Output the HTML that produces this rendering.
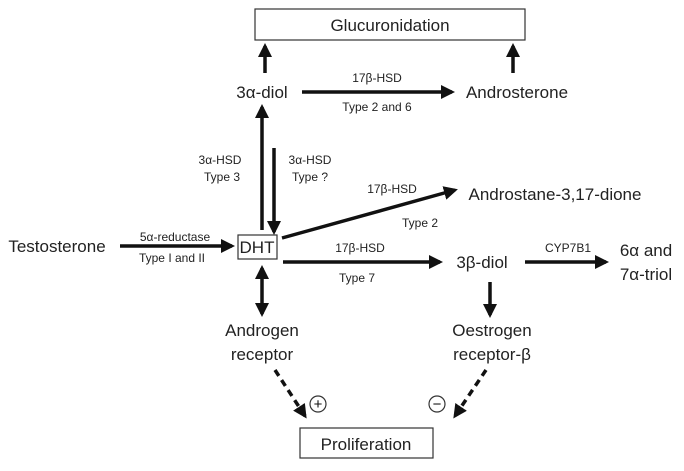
<!DOCTYPE html>
<html><head><meta charset="utf-8"><style>html,body{margin:0;padding:0;background:#fff}</style></head><body>
<svg width="684" height="466" viewBox="0 0 684 466" xmlns="http://www.w3.org/2000/svg" font-family="Liberation Sans, sans-serif" fill="#222">
<defs>
<marker id="b" markerWidth="14" markerHeight="14" refX="11" refY="7" orient="auto-start-reverse" markerUnits="userSpaceOnUse"><path d="M0,0 L14,7 L0,14 z" fill="#111"/></marker>
</defs>
<g stroke="#111" stroke-width="3.5" fill="none">
<line x1="265" y1="73" x2="265" y2="46" marker-end="url(#b)"/>
<line x1="513" y1="73" x2="513" y2="46" marker-end="url(#b)"/>
<line x1="302" y1="92" x2="452" y2="92" marker-end="url(#b)"/>
<line x1="262" y1="230" x2="262" y2="107" marker-end="url(#b)"/>
<line x1="274" y1="148" x2="274" y2="232" marker-end="url(#b)"/>
<line x1="282" y1="238" x2="455" y2="190" marker-end="url(#b)"/>
<line x1="120" y1="246" x2="232" y2="246" marker-end="url(#b)"/>
<line x1="283" y1="262" x2="440" y2="262" marker-end="url(#b)"/>
<line x1="525" y1="262" x2="606" y2="262" marker-end="url(#b)"/>
<line x1="262" y1="268" x2="262" y2="314" marker-start="url(#b)" marker-end="url(#b)"/>
<line x1="490" y1="282" x2="490" y2="315" marker-end="url(#b)"/>
<line x1="275" y1="370" x2="305" y2="416" stroke-dasharray="7,5" marker-end="url(#b)"/>
<line x1="486" y1="370" x2="455" y2="416" stroke-dasharray="7,5" marker-end="url(#b)"/>
</g>
<g fill="#fff" stroke="#333" stroke-width="1.2">
<rect x="255" y="9" width="270" height="31"/>
<rect x="238" y="235" width="39" height="24"/>
<rect x="300" y="428" width="133" height="30"/>
<circle cx="318" cy="404" r="8"/>
<circle cx="437" cy="404" r="8"/>
</g>
<g font-size="15" text-anchor="middle" fill="#111"><text x="318" y="409">+</text><text x="437" y="409">−</text></g>
<g font-size="17" text-anchor="middle">
<text x="390" y="31">Glucuronidation</text>
<text x="366" y="450">Proliferation</text>
<text x="257" y="253">DHT</text>
<text x="262" y="98">3α-diol</text>
<text x="517" y="98">Androsterone</text>
<text x="555" y="200">Androstane-3,17-dione</text>
<text x="57" y="252">Testosterone</text>
<text x="482" y="268">3β-diol</text>
<text x="646" y="256">6α and</text>
<text x="646" y="280">7α-triol</text>
<text x="262" y="336">Androgen</text>
<text x="262" y="360">receptor</text>
<text x="492" y="336">Oestrogen</text>
<text x="492" y="360">receptor-β</text>
</g>
<g font-size="12" text-anchor="middle">
<text x="377" y="82">17β-HSD</text>
<text x="377" y="111">Type 2 and 6</text>
<text x="220" y="164">3α-HSD</text>
<text x="222" y="181">Type 3</text>
<text x="310" y="164">3α-HSD</text>
<text x="310" y="181">Type ?</text>
<text x="392" y="193">17β-HSD</text>
<text x="420" y="227">Type 2</text>
<text x="175" y="241">5α-reductase</text>
<text x="172" y="262">Type I and II</text>
<text x="360" y="252">17β-HSD</text>
<text x="357" y="282">Type 7</text>
<text x="568" y="252">CYP7B1</text>
</g>
</svg>
</body></html>
